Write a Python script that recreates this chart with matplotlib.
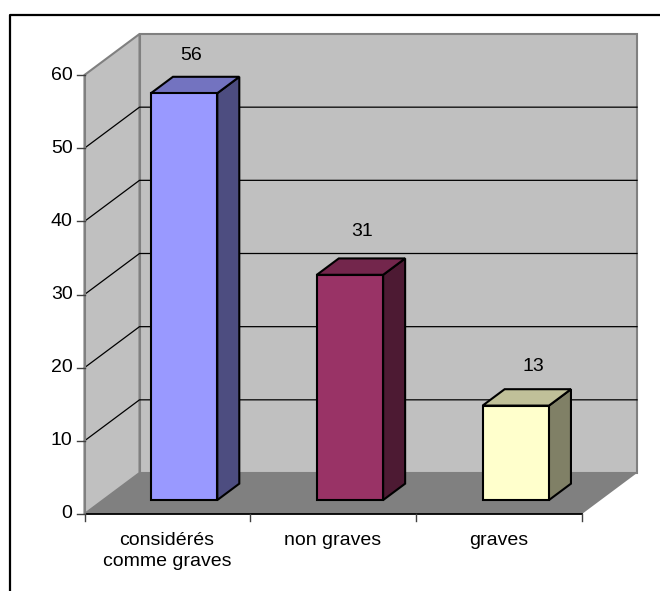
import matplotlib
matplotlib.use("Agg")
import matplotlib.pyplot as plt
from matplotlib.patches import Polygon

categories = ["considérés\ncomme graves", "non graves", "graves"]
values = [56, 31, 13]
yticks = [0, 10, 20, 30, 40, 50, 60]
front_colors = ["#9999FF", "#993366", "#FFFFCC"]
top_colors = ["#7373C0", "#73264C", "#C0C099"]
side_colors = ["#4D4D80", "#4D1A33", "#808066"]

W, H = 660, 591
plt.rcParams["font.family"] = "Liberation Sans"
# plot box in pixels
left, right, bottom, top = 84.5, 582, 514, 75
DX = 55 / (right - left) * 3     # depth of the box, in category units
DY = 41 / (bottom - top) * 60    # depth of the box, in value units
BAR_W = 0.40
BAR_SCALE = 0.993   # bars sit a bit inside the box, so they come out slightly short
FS = 14

fig = plt.figure(figsize=(W / 100, H / 100), dpi=100)
ax = fig.add_axes([left / W, 1 - bottom / H, (right - left) / W, (bottom - top) / H])
ax.set_xlim(0, 3)
ax.set_ylim(0, 60)
ax.axis("off")


def proj(x, y, d):
    # d is depth, 0 front, 1 back of box
    return (x + d * DX, y + d * DY)


def quad(pts, fc, ec="none", lw=0, z=1):
    ax.add_patch(Polygon([proj(*p) for p in pts], closed=True, fc=fc, ec=ec, lw=lw,
                         zorder=z, clip_on=False, joinstyle="miter"))


wall = "#C0C0C0"
edge = "#808080"
quad([(0, 0, 1), (3, 0, 1), (3, 60, 1), (0, 60, 1)], wall, edge, 1.5, 1)
quad([(0, 0, 0), (0, 0, 1), (0, 60, 1), (0, 60, 0)], wall, edge, 1.5, 1)
quad([(0, 0, 0), (3, 0, 0), (3, 0, 1), (0, 0, 1)], edge, "none", 0, 2)

for t in yticks[1:-1]:
    xs, ys = zip(proj(0, t, 0), proj(0, t, 1), proj(3, t, 1))
    ax.plot(xs, ys, color="black", lw=0.9, zorder=2, clip_on=False)

# axes lines and ticks
ax.plot([0, 3], [0, 0], color="black", lw=1.3, zorder=3, clip_on=False)
ax.plot([0, 0], [0, 60], color=edge, lw=1.5, zorder=3, clip_on=False)
for t in yticks:
    ax.plot([-0.045, 0], [t, t], color="#404040", lw=1, zorder=3, clip_on=False)
    ax.text(-0.072, t, str(t), ha="right", va="center", fontsize=FS, color="black")
for i in range(4):
    ax.plot([i, i], [0, -1], color="#404040", lw=1, zorder=3, clip_on=False)

d0, d1 = 0.34, 0.74
label_gap = [6.6, 7.6, 7.2]
for i, (v, fc, tc, sc) in enumerate(zip(values, front_colors, top_colors, side_colors)):
    x0 = i + 0.288
    x1 = x0 + BAR_W
    h = v * BAR_SCALE
    quad([(x1, 0, d0), (x1, 0, d1), (x1, h, d1), (x1, h, d0)], sc, "black", 1.5, 4)
    quad([(x0, h, d0), (x1, h, d0), (x1, h, d1), (x0, h, d1)], tc, "black", 1.5, 4)
    quad([(x0, 0, d0), (x1, 0, d0), (x1, h, d0), (x0, h, d0)], fc, "black", 1.5, 5)
    ax.text(0.645 + 1.03 * i, v + label_gap[i], str(v), ha="center", va="center",
            fontsize=FS, color="black", zorder=6)

for i, c in enumerate(categories):
    ax.text(i + 0.497, -2.5, c, ha="center", va="top", fontsize=FS, color="black", linespacing=1.25)

# chart border, only left and top show in the crop
fig.add_artist(plt.Line2D([10.5 / W, 10.5 / W, 1],
                          [0, 1 - 15 / H, 1 - 15 / H], color="black", lw=1.6))

fig.savefig("out.png", dpi=100)
